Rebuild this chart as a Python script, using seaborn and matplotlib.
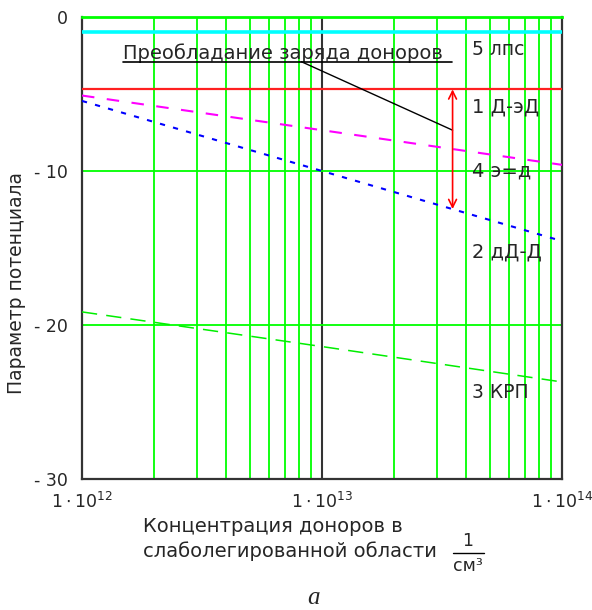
import numpy as np
import pandas as pd
import matplotlib
matplotlib.use("Agg")
import matplotlib.pyplot as plt
from matplotlib.lines import Line2D
from matplotlib.ticker import FixedLocator, LogLocator, NullFormatter
import seaborn as sns

# ---- data ----
conc = [1e12, 1e13, 1e14]
lps = [-1.0, -1.0, -1.0]          # 5 лпс
d_ed = [-4.7, -4.7, -4.7]         # 1 Д-эД
e_d = [-5.1, -7.35, -9.6]         # 4 э=д
dd_d = [-5.45, -10.0, -14.55]     # 2 дД-Д
krp = [-19.15, -21.4, -23.7]      # 3 КРП

pointer_x = [8.2e12, 3.5e13]
pointer_y = [-2.9, -7.35]
arrow_x = 3.5e13
arrow_y = [-4.7, -12.47]

yticks = [0, -10, -20, -30]
ytick_labels = ["0", "- 10", "- 20", "- 30"]
xticks = [1e12, 1e13, 1e14]
xtick_labels = [r"$1\cdot10^{12}$", r"$1\cdot10^{13}$", r"$1\cdot10^{14}$"]

sns.set_style("white")
plt.rcParams["font.family"] = ["DejaVu Sans"]
plt.rcParams["mathtext.fontset"] = "dejavusans"

W, H = 592, 610
fig = plt.figure(figsize=(W / 100, H / 100), dpi=100)
ax = fig.add_axes([82 / W, 1 - 479 / H, 480 / W, 462 / H])

df = pd.DataFrame({"x": conc, "lps": lps, "d_ed": d_ed, "e_d": e_d, "dd_d": dd_d, "krp": krp})

ax.set_xscale("log")
ax.set_xlim(1e12, 1e14)
ax.set_ylim(-30, 0)

# grid
ax.xaxis.set_major_locator(FixedLocator(xticks))
ax.xaxis.set_minor_locator(LogLocator(base=10, subs=np.arange(2, 10)))
ax.xaxis.set_minor_formatter(NullFormatter())
for xm in ax.xaxis.get_minorticklocs():
    if 1e12 < xm < 1e14:
        ax.axvline(xm, color="#00ff00", lw=1.3, zorder=1)
ax.axvline(1e13, color="#333333", lw=1.5, zorder=1)
for yv in [-10, -20]:
    ax.axhline(yv, color="#00ff00", lw=1.3, zorder=1)

sns.lineplot(data=df, x="x", y="lps", ax=ax, color="#00ffff", lw=2.6, zorder=3)
sns.lineplot(data=df, x="x", y="d_ed", ax=ax, color="#ff2020", lw=1.6, zorder=3)
sns.lineplot(data=df, x="x", y="e_d", ax=ax, color="#ff00ff", lw=1.5, zorder=3,
             linestyle=(0, (6, 6)))
sns.lineplot(data=df, x="x", y="dd_d", ax=ax, color="#0000ff", lw=1.5, zorder=3,
             linestyle=(0, (2.5, 4)))
sns.lineplot(data=df, x="x", y="krp", ax=ax, color="#00ee00", lw=1.1, zorder=3,
             linestyle=(0, (10, 6)))

# annotations
ax.plot(pointer_x, pointer_y, color="black", lw=1.0, zorder=4)
ax.annotate("", xy=(arrow_x, arrow_y[0]), xytext=(arrow_x, arrow_y[1]),
            arrowprops=dict(arrowstyle="<->", color="#ff0000", lw=1.2,
                            shrinkA=0, shrinkB=0, mutation_scale=14), zorder=4)

fs = 14
lx = 4.2e13
ax.text(lx, -2.14, "5 лпс", fontsize=fs - 0.5, va="center", ha="left", zorder=5)
ax.text(lx, -5.84, "1 Д-эД", fontsize=fs, va="center", ha="left", zorder=5)
ax.text(lx, -10.0, "4 э=д", fontsize=fs, va="center", ha="left", zorder=5)
ax.text(lx, -15.26, "2 дД-Д", fontsize=fs, va="center", ha="left", zorder=5)
ax.text(lx, -24.4, "3 КРП", fontsize=fs - 0.5, va="center", ha="left", zorder=5)

ax.text(1.48e12, -2.34, "Преобладание заряда доноров", fontsize=fs,
        va="center", ha="left", zorder=5)
fig.add_artist(Line2D([123 / W, 452 / W], [1 - 62 / H, 1 - 62 / H], color="black", lw=1.2))

# ticks
ax.set_yticks(yticks)
ax.set_yticklabels(ytick_labels)
ax.set_xticklabels(xtick_labels)
ax.tick_params(axis="both", which="both", length=0)
ax.tick_params(axis="y", pad=10, labelsize=12.5)
ax.tick_params(axis="x", pad=9, labelsize=12.5)
ax.set_xlabel("")
ax.set_ylabel("")

for s in ["left", "bottom", "right"]:
    ax.spines[s].set_color("#333333")
    ax.spines[s].set_linewidth(1.6)
ax.spines["top"].set_color("#00ff00")
ax.spines["top"].set_linewidth(2.0)

# axis titles
fig.text(17 / W, 1 - 283 / H, "Параметр потенциала", rotation=90, fontsize=fs - 0.5,
         ha="center", va="center")
fig.text(143 / W, 1 - 527 / H, "Концентрация доноров в", fontsize=fs, ha="left", va="center")
fig.text(143 / W, 1 - 551 / H, "слаболегированной области", fontsize=fs, ha="left", va="center")
fig.text(468 / W, 1 - 541 / H, "1", fontsize=fs - 1.5, ha="center", va="center")
fig.add_artist(Line2D([453 / W, 484 / W], [1 - 553 / H, 1 - 553 / H], color="black", lw=1.0))
fig.text(468 / W, 1 - 566 / H, "см³", fontsize=fs - 1.5, ha="center", va="center")
fig.text(313 / W, 1 - 598 / H, "a", fontsize=18, ha="center", va="center",
         family="Liberation Serif", style="italic")

fig.savefig("out.png", dpi=100)
